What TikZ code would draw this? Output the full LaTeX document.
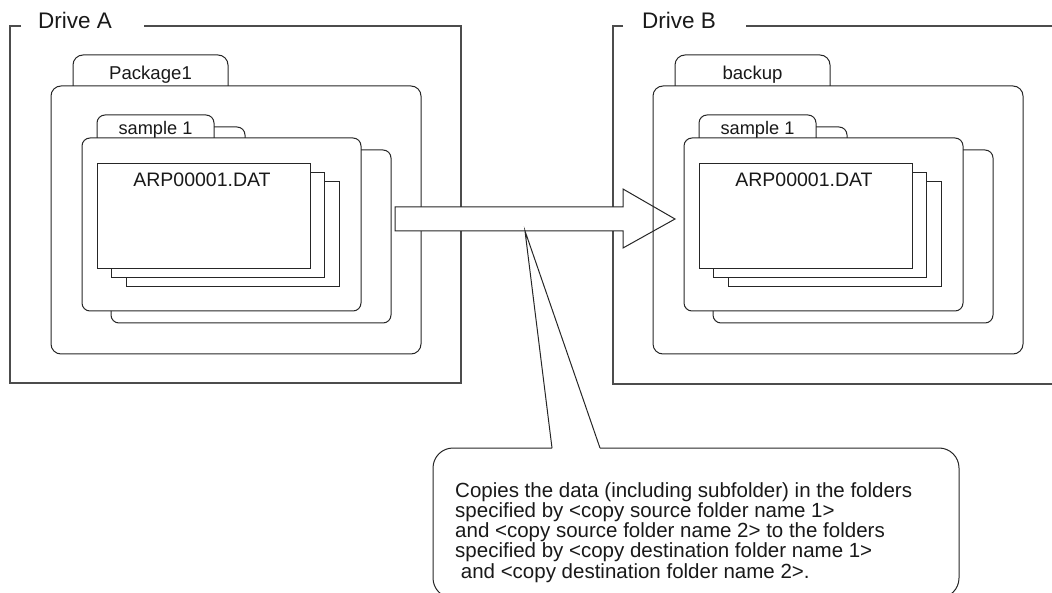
\documentclass[tikz,border=0pt]{standalone}
\usepackage{fontspec}
\setmainfont{Liberation Sans}
\tikzset{
  ln/.style={draw=black!85, line width=1pt},
  frm/.style={draw=black!70, line width=1.1pt},
  lbl/.style={inner sep=0pt, anchor=base, text=black!90},
}
\newcommand\FolderSet[2]{%
  % package folder
  \draw[ln, rounded corners=10] (73,86) -- (73,55) -- (228,55) -- (228,86);
  \draw[ln, rounded corners=10] (51,86) rectangle (421,354);
  \node[lbl, font=\fontsize{18.6}{22}\selectfont] (#2pkg) at (150.5,80) {#1};
  % sample folders
  \draw[ln, rounded corners=8] (214,127) -- (245,127) -- (245,138);
  \draw[ln, rounded corners=8] (97,138) -- (97,115) -- (214,115) -- (214,138);
  \draw[ln, rounded corners=8] (361,150) -- (391,150) -- (391,323) -- (111,323) -- (111,311);
  \draw[ln, rounded corners=8] (82,138) rectangle (361,311);
  \node[lbl, font=\fontsize{18.2}{22}\selectfont] (#2smp) at (155.5,135) {sample 1};
  % files
  \draw[ln] (324,182) -- (339,182) -- (339,287) -- (126,287) -- (126,278);
  \draw[ln] (310,173) -- (324,173) -- (324,278) -- (111,278) -- (111,269);
  \draw[ln] (97,164) rectangle (310,269);
  \node[lbl, font=\fontsize{19.5}{22}\selectfont] (#2file) at (202,187) {ARP00001.DAT};
}
\begin{document}
\begin{tikzpicture}[x=1pt, y=-1pt]
\useasboundingbox (0,0) rectangle (1052,593);
\clip (0,0) rectangle (1052,593);
% Drive A frame
\draw[frm] (21,26) -- (10,26) -- (10,383) -- (461,383) -- (461,26) -- (144,26);
\node[lbl, anchor=base west, font=\fontsize{22.5}{26}\selectfont] (driveA) at (38,29) {Drive A};
% Drive B frame
\draw[frm] (623,26) -- (613,26) -- (613,384) -- (1060,384);
\draw[frm] (746,26) -- (1060,26);
\node[lbl, anchor=base west, font=\fontsize{22.5}{26}\selectfont] (driveB) at (642,29) {Drive B};
% Drive A contents
\FolderSet{Package1}{a}
% big arrow
\draw[ln, fill=white] (395,207) -- (623,207) -- (623,189) -- (675,219) -- (623,248) -- (623,231) -- (395,231) -- cycle;
\coordinate (apex) at (525,231);
% Drive B contents
\begin{scope}[xshift=602pt]
\FolderSet{backup}{b}
\end{scope}
% callout
\coordinate (pl) at (552,448);
\coordinate (pr) at (600,448);
\draw[ln] (pl) -- (apex) -- (pr);
\draw[ln, rounded corners=20] (pr) -- (959,448) -- (959,598) -- (433,598) -- (433,448) -- (pl);
\node[lbl, anchor=base west, align=left, font=\fontsize{20.5}{20.25}\selectfont] (note) at (455,578)
 {Copies the data (including subfolder) in the folders\\
  specified by <copy source folder name 1>\\
  and <copy source folder name 2> to the folders\\
  specified by <copy destination folder name 1>\\
  \ and <copy destination folder name 2>.};
\end{tikzpicture}
\end{document}
